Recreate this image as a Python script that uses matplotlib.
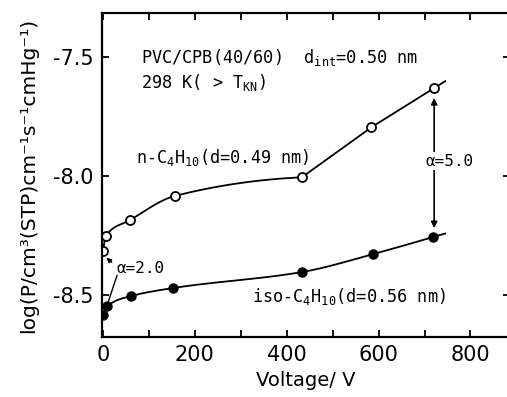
import numpy as np
import matplotlib
matplotlib.use("Agg")
import matplotlib.pyplot as plt

# data
volt_n = [0, 7, 59, 157, 433, 584, 721]
logp_n = [-8.315, -8.25, -8.185, -8.083, -8.005, -7.795, -7.63]
volt_iso = [1, 10, 61, 153, 433, 588, 718]
logp_iso = [-8.585, -8.546, -8.504, -8.47, -8.403, -8.328, -8.256]
x_ticks = [0, 200, 400, 600, 800]
y_ticks = [-8.5, -8.0, -7.5]


def pchip(x, y, xs, straight_from=None):
    # monotone cubic through the points; straight pieces after straight_from
    # and past the last point
    x = np.asarray(x, float)
    y = np.asarray(y, float)
    h = np.diff(x)
    d = np.diff(y) / h
    m = np.zeros_like(y)
    m[0] = d[0]
    m[-1] = d[-1]
    for k in range(1, len(x) - 1):
        if d[k - 1] * d[k] > 0:
            w1 = 2 * h[k] + h[k - 1]
            w2 = h[k] + 2 * h[k - 1]
            m[k] = (w1 + w2) / (w1 / d[k - 1] + w2 / d[k])
    if straight_from is not None:
        m[straight_from] = d[straight_from - 1] * 0.3
    out = []
    for v in xs:
        if v >= x[-1]:
            out.append(y[-1] + d[-1] * (v - x[-1]))
            continue
        k = min(max(np.searchsorted(x, v, side="right") - 1, 0), len(x) - 2)
        if straight_from is not None and k >= straight_from:
            out.append(y[k] + d[k] * (v - x[k]))
            continue
        t = (v - x[k]) / h[k]
        h00 = 2 * t**3 - 3 * t**2 + 1
        h10 = t**3 - 2 * t**2 + t
        h01 = -2 * t**3 + 3 * t**2
        h11 = t**3 - t**2
        out.append(h00 * y[k] + h10 * h[k] * m[k] + h01 * y[k + 1] + h11 * h[k] * m[k + 1])
    return np.array(out)


plt.rcParams["axes.unicode_minus"] = False
plt.rcParams["mathtext.fontset"] = "custom"
plt.rcParams["mathtext.rm"] = "DejaVu Sans Mono"
plt.rcParams["mathtext.it"] = "DejaVu Sans Mono"

fig = plt.figure(figsize=(5.07, 3.97), dpi=100)
ax = fig.add_axes([0.201, 0.151, 0.804, 0.816])

xs_n = np.linspace(volt_n[0], 745, 800)
xs_i = np.linspace(volt_iso[0], 745, 800)
ax.plot(xs_n, pchip(volt_n, logp_n, xs_n, straight_from=4), color="black", lw=1.3)
ax.plot(xs_i, pchip(volt_iso, logp_iso, xs_i), color="black", lw=1.3)
ax.plot(volt_n, logp_n, "o", ms=6.5, mfc="white", mec="black", mew=1.3)
ax.plot(volt_iso, logp_iso, "o", ms=6.5, mfc="black", mec="black")

ax.set_xlim(-2, 885)
ax.set_ylim(-8.676, -7.315)
ax.set_xticks(x_ticks)
ax.set_xticks(np.arange(100, 900, 200), minor=True)
ax.set_yticks(y_ticks)
ax.set_yticklabels(["-8.5", "-8.0", "-7.5"])
ax.tick_params(which="both", direction="in", top=True, right=True, length=5, width=1.3,
               labelsize=15, pad=6)
for s in ax.spines.values():
    s.set_linewidth(1.6)

ax.set_xlabel("Voltage/ V", fontsize=14, labelpad=4)
ax.set_ylabel("log(P/cm³(STP)cm⁻¹s⁻¹cmHg⁻¹)", fontsize=14.6, labelpad=11)

mono = dict(family="DejaVu Sans Mono", fontsize=12.2, va="center")
ax.text(83, -7.5, r"PVC/CPB(40/60)  d$_{\rm int}$=0.50 nm", **mono)
ax.text(83, -7.605, r"298 K( > T$_{\rm KN}$)", **mono)
ax.text(72, -7.92, r"n-C$_{\rm 4}$H$_{\rm 10}$(d=0.49 nm)", **mono)
ax.text(325, -8.504, r"iso-C$_{\rm 4}$H$_{\rm 10}$(d=0.56 nm)", **mono)

ax.annotate("", xy=(721, -7.66), xytext=(721, -8.23),
            arrowprops=dict(arrowstyle="<|-|>", color="black", lw=1.2, mutation_scale=9))
ax.text(754, -7.937, "α=5.0", family="DejaVu Sans Mono", fontsize=11.5, ha="center",
        va="center", bbox=dict(facecolor="white", edgecolor="none", pad=1))

ax.text(30, -8.39, "α=2.0", family="DejaVu Sans Mono", fontsize=11.5, va="center")
ax.annotate("", xy=(3, -8.335), xytext=(24, -8.37),
            arrowprops=dict(arrowstyle="-|>", color="black", lw=1.0, mutation_scale=7))
ax.annotate("", xy=(8, -8.55), xytext=(33, -8.405),
            arrowprops=dict(arrowstyle="-", color="black", lw=1.0))

fig.savefig("out.png", dpi=100)
